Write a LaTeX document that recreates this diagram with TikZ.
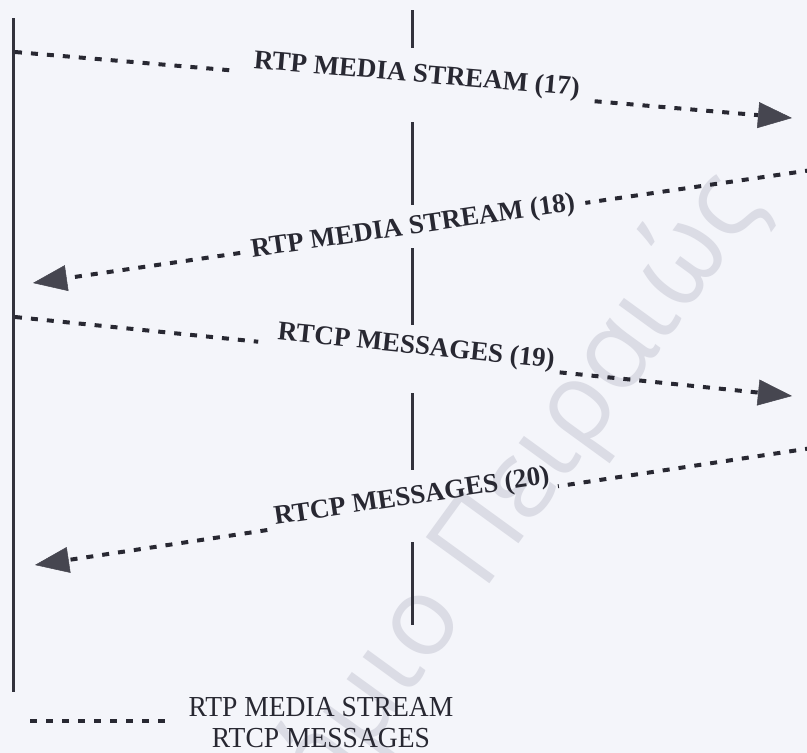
\documentclass[tikz,border=0pt]{standalone}
\usepackage{fontspec}
\setmainfont{Liberation Serif}
\newfontfamily\wmfont{Open Sans}
\usetikzlibrary{arrows.meta,calc}
\definecolor{paper}{RGB}{244,245,250}
\definecolor{ink}{RGB}{40,40,50}
\definecolor{lifeink}{RGB}{50,50,60}
\definecolor{headink}{RGB}{70,70,80}
\definecolor{wmgray}{RGB}{219,220,229}

\tikzset{
  lifeline/.style={draw=lifeink, line width=3pt},
  msgline/.style={draw=ink, line width=4pt, dash pattern=on 7pt off 9pt},
  msgarrow/.style={msgline, -{Triangle[length=34pt,width=26pt,line width=0.5pt,color=headink]}},
  msglabel/.style={sloped, anchor=base, yshift=4pt, inner sep=0pt, text=ink,
    font=\fontsize{27}{30}\selectfont\bfseries},
  legendtext/.style={text=ink, font=\fontsize{29}{31}\selectfont, align=center, inner sep=0pt},
  wmtext/.style={text=wmgray, font=\wmfont\fontsize{110}{110}\selectfont, inner sep=0pt},
}

\begin{document}
\begin{tikzpicture}[x=1pt,y=-1pt]
  \fill[paper] (0,0) rectangle (807,753);
  \useasboundingbox (0,0) rectangle (807,753);
  \clip (0,0) rectangle (807,753);

  % library watermark
  \node[wmtext, rotate=54, anchor=base east] (wm) at (765,205) {ήμιο Πειραιώς};

  % lifelines
  \coordinate (Ltop) at (13,18);
  \coordinate (Lbot) at (13,692);
  \draw[lifeline] (Ltop) -- (Lbot);
  \foreach \i/\a/\b in {1/10/48, 2/122/205, 3/248/325, 4/393/470, 5/542/625} {
    \coordinate (M\i a) at (412,\a);
    \coordinate (M\i b) at (412,\b);
    \draw[lifeline] (M\i a) -- (M\i b);
  }

  % (17) RTP media stream, left to right
  \coordinate (s17) at (15,52);
  \coordinate (e17) at (792,118);
  \draw[msgline] (s17) -- ($(s17)!0.277!(e17)$);
  \draw[msgarrow] ($(s17)!0.746!(e17)$) -- (e17);
  \path (s17) -- (e17) node[msglabel, pos=0.516] (l17) {RTP MEDIA STREAM (17)};

  % (18) RTP media stream, right to left
  \coordinate (s18) at (812,170);
  \coordinate (e18) at (33,283);
  \draw[msgline] (s18) -- ($(s18)!0.291!(e18)$);
  \draw[msgarrow] ($(s18)!0.734!(e18)$) -- (e18);
  \path (s18) -- (e18) node[msglabel, pos=0.512, yshift=-10pt] (l18) {RTP MEDIA STREAM (18)};

  % (19) RTCP messages, left to right
  \coordinate (s19) at (15,317);
  \coordinate (e19) at (792,396);
  \draw[msgline] (s19) -- ($(s19)!0.313!(e19)$);
  \draw[msgarrow] ($(s19)!0.701!(e19)$) -- (e19);
  \path (s19) -- (e19) node[msglabel, pos=0.515] (l19) {RTCP MESSAGES (19)};

  % (20) RTCP messages, right to left
  \coordinate (s20) at (812,448);
  \coordinate (e20) at (35,565);
  \draw[msgline] (s20) -- ($(s20)!0.327!(e20)$);
  \draw[msgarrow] ($(s20)!0.701!(e20)$) -- (e20);
  \path (s20) -- (e20) node[msglabel, pos=0.513] (l20) {RTCP MESSAGES (20)};

  % legend
  \coordinate (k1) at (30,721);
  \coordinate (k2) at (165,721);
  \draw[msgline] (k1) -- (k2);
  \node[legendtext] (key) at (321,723)
    {\scalebox{0.95}[1]{RTP MEDIA STREAM}\\\scalebox{0.95}[1]{RTCP MESSAGES}};
\end{tikzpicture}
\end{document}
